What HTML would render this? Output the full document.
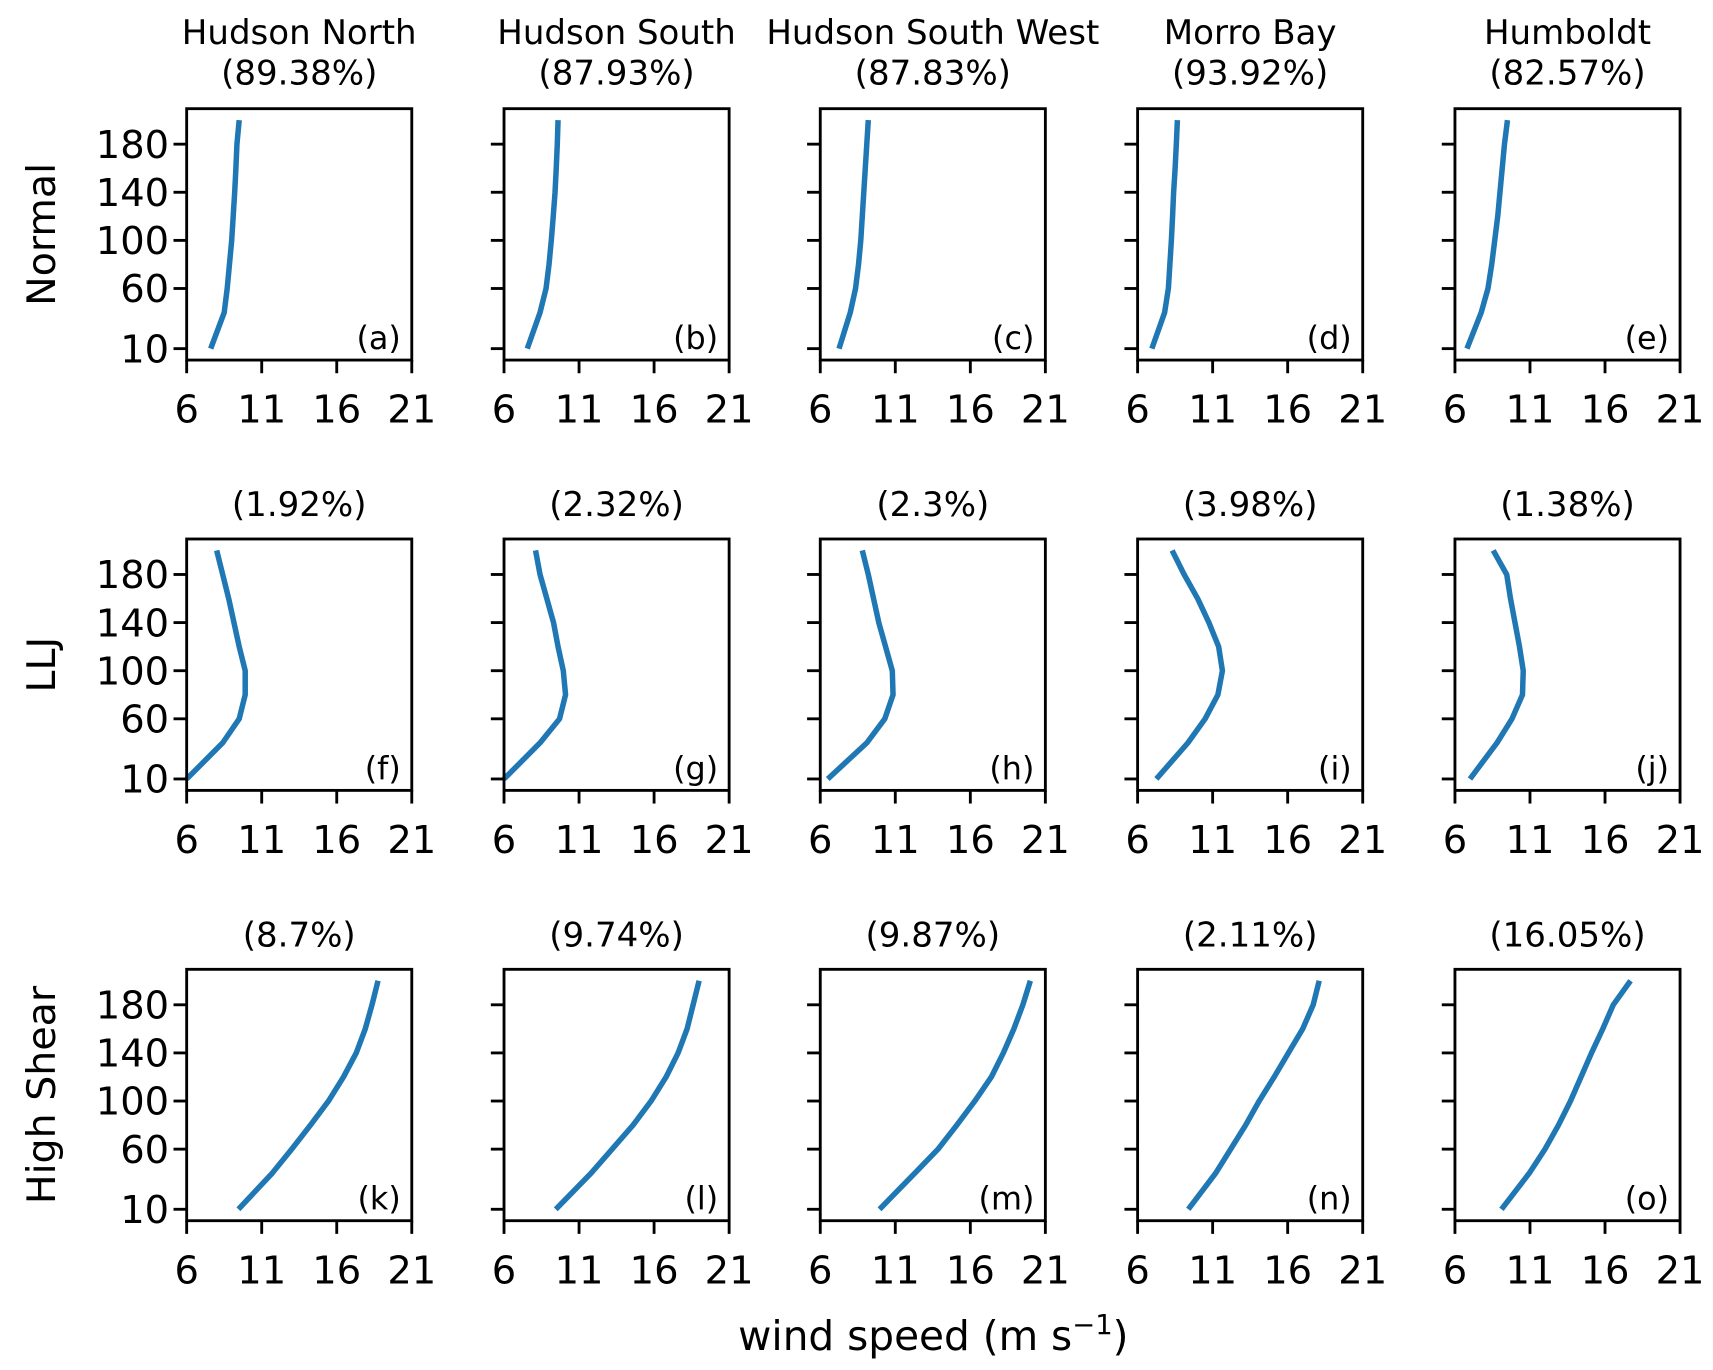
<!DOCTYPE html>
<html><head><meta charset="utf-8"><style>
html,body{margin:0;padding:0;background:#fff;}
svg{display:block;font-family:"DejaVu Sans","Liberation Sans",sans-serif;}
</style></head><body>
<svg id="chart" width="1713" height="1370" viewBox="0 0 1560 1248" preserveAspectRatio="none"></svg>
<script>
const heights = [10,40,60,80,100,120,140,160,180,200];
const yTicks = [10,60,100,140,180];
const xTicks = [6,11,16,21];
const siteNames = ["Hudson North","Hudson South","Hudson South West","Morro Bay","Humboldt"];
const rowNames = ["Normal","LLJ","High Shear"];
const pctNormal = ["89.38%","87.93%","87.83%","93.92%","82.57%"];
const pctLLJ = ["1.92%","2.32%","2.3%","3.98%","1.38%"];
const pctShear = ["8.7%","9.74%","9.87%","2.11%","16.05%"];
const panelLetters = ["a","b","c","d","e","f","g","h","i","j","k","l","m","n","o"];
const normalA = [7.6,8.5,8.7,8.85,9.0,9.1,9.2,9.28,9.35,9.5];
const normalB = [7.55,8.4,8.8,9.0,9.15,9.28,9.4,9.48,9.55,9.6];
const normalC = [7.25,8.0,8.35,8.55,8.7,8.8,8.9,9.0,9.1,9.2];
const normalD = [6.95,7.8,8.05,8.15,8.25,8.33,8.4,8.5,8.58,8.65];
const normalE = [6.8,7.75,8.2,8.45,8.65,8.85,9.0,9.15,9.3,9.5];
const lljF = [6.0,8.4,9.5,9.9,9.9,9.5,9.15,8.8,8.4,8.0];
const lljG = [6.0,8.4,9.7,10.1,9.95,9.6,9.3,8.85,8.4,8.1];
const lljH = [6.5,9.1,10.3,10.85,10.8,10.35,9.9,9.55,9.2,8.8];
const lljI = [7.25,9.35,10.5,11.35,11.65,11.4,10.75,10.0,9.1,8.3];
const lljJ = [7.0,8.8,9.8,10.5,10.55,10.3,10.0,9.7,9.45,8.55];
const shearK = [9.45,11.7,13.0,14.25,15.45,16.45,17.3,17.9,18.35,18.75];
const shearL = [9.45,11.8,13.2,14.6,15.8,16.8,17.6,18.2,18.6,19.0];
const shearM = [9.95,12.3,13.85,15.1,16.3,17.4,18.2,18.9,19.5,20.0];
const shearN = [9.38,11.2,12.2,13.2,14.1,15.1,16.05,17.0,17.7,18.1];
const shearO = [9.1,10.95,12.0,12.9,13.7,14.4,15.1,15.85,16.55,17.7];
const series = [normalA,normalB,normalC,normalD,normalE,lljF,lljG,lljH,lljI,lljJ,shearK,shearL,shearM,shearN,shearO];

const NS="http://www.w3.org/2000/svg";
const svg=document.getElementById('chart');
const colX=[170,459,747,1036,1325], PW=205;
const rowY=[99,491,883], PH=229;
const X0=6,X1=21,Y0=0.5,Y1=209.5;
function mk(tag,attrs,parent){const e=document.createElementNS(NS,tag);for(const k in attrs)e.setAttribute(k,attrs[k]);(parent||svg).appendChild(e);return e;}
function txt(s,attrs,parent){const e=mk('text',attrs,parent);e.textContent=s;return e;}

for(let r=0;r<3;r++){
  for(let c=0;c<5;c++){
    const idx=r*5+c;
    const px=colX[c], py=rowY[r];
    const sx=v=>px+(v-X0)/(X1-X0)*PW;
    const sy=v=>py+PH-(v-Y0)/(Y1-Y0)*PH;
    const g=mk('g',{});
    
    
    const d=heights.map((h,i)=>(i?'L':'M')+sx(series[idx][i]).toFixed(2)+','+sy(h).toFixed(2)).join(' ');
    const path=mk('path',{d:d,fill:'none',stroke:'#1f77b4','stroke-width':5,'stroke-linejoin':'round'},g);
    
    
    const fr=mk('rect',{x:px,y:py,width:PW,height:PH,fill:'none',stroke:'#000','stroke-width':2.6},g);
    
    
    yTicks.forEach(t=>{
      mk('line',{x1:px-12,x2:px,y1:sy(t),y2:sy(t),stroke:'#000','stroke-width':2.6},g);
      if(c===0){
        const tl=txt(String(t),{x:px-16,y:sy(t)+12.5,'text-anchor':'end','font-size':35},g);
        
        
      }
    });
    xTicks.forEach(t=>{
      mk('line',{x1:sx(t),x2:sx(t),y1:py+PH,y2:py+PH+12,stroke:'#000','stroke-width':2.6},g);
      const tl=txt(String(t),{x:sx(t),y:py+PH+57,'text-anchor':'middle','font-size':35},g);
      
      
    });
    const pl=txt('('+panelLetters[idx]+')',{x:px+PW-10,y:py+PH-10,'text-anchor':'end','font-size':29},g);
    
    
    const pct=[pctNormal,pctLLJ,pctShear][r][c];
    if(r===0){
      const t1=txt(siteNames[c],{x:px+PW/2,y:40,'text-anchor':'middle','font-size':31},g);
      
      
      const t2=txt('('+pct+')',{x:px+PW/2,y:77,'text-anchor':'middle','font-size':31},g);
      
      
    } else {
      const t2=txt('('+pct+')',{x:px+PW/2,y:py-21,'text-anchor':'middle','font-size':31},g);
      
      
    }
  }
  const rl=txt(rowNames[r],{x:0,y:0,'text-anchor':'middle','font-size':36,transform:'translate(50,'+(rowY[r]+PH/2)+') rotate(-90)'});
  
  
}
const xl=mk('text',{x:850,y:1230,'text-anchor':'middle','font-size':37});


xl.innerHTML='wind speed (m s<tspan dy="-15" font-size="25">−1</tspan><tspan dy="15">)</tspan>';
</script>
</body></html>
